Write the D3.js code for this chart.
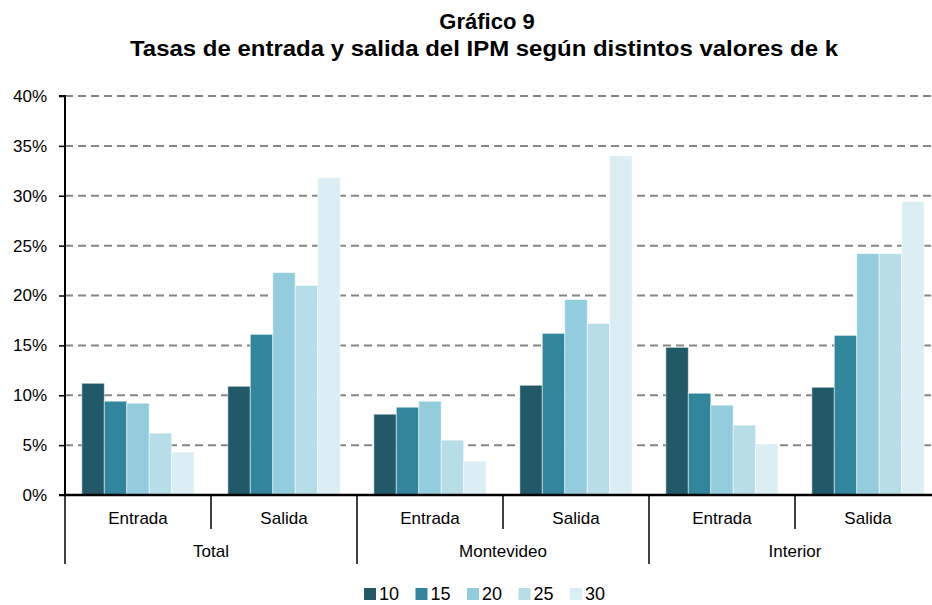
<!DOCTYPE html>
<html>
<head>
<meta charset="utf-8">
<script src="https://cdn.jsdelivr.net/npm/d3@7"></script>
<style>
  body { margin: 0; background: #fff; }
  svg { display: block; font-family: "Liberation Sans", Arial, sans-serif; }
</style>
</head>
<body>
<div class="chart"></div>
<script>
// data
const regions = ["Total", "Montevideo", "Interior"];
const flows = ["Entrada", "Salida"];
const kValues = ["10", "15", "20", "25", "30"];
const k10 = [11.2, 10.9, 8.1, 11.0, 14.8, 10.8];
const k15 = [9.4, 16.1, 8.8, 16.2, 10.2, 16.0];
const k20 = [9.2, 22.3, 9.4, 19.6, 9.0, 24.2];
const k25 = [6.2, 21.0, 5.5, 17.2, 7.0, 24.2];
const k30 = [4.3, 31.8, 3.4, 34.0, 5.1, 29.4];
const yTicks = [0, 5, 10, 15, 20, 25, 30, 35, 40];
const colors = ["#215968", "#31859c", "#93cddd", "#b7dee8", "#dbeef4"];

const series = [k10, k15, k20, k25, k30];
const cats = [];
regions.forEach(r => flows.forEach(f => cats.push(r + "|" + f)));
const rows = cats.map((c, i) => ({cat: c, vals: series.map((s, j) => ({k: kValues[j], v: s[i]}))}));

const W = 932, H = 605;
const plot = {left: 65, right: 941, top: 96, bottom: 495};

const svg = d3.select(".chart").append("svg")
    .attr("width", W)
    .attr("height", H);

const x = d3.scaleBand()
    .domain(cats)
    .range([plot.left, plot.right]);

const xk = d3.scaleBand()
    .domain(kValues)
    .range([0, x.bandwidth()])
    .paddingOuter(0.75);

const y = d3.scaleLinear()
    .domain([0, 40])
    .range([plot.bottom, plot.top]);

// gridlines
svg.append("g")
    .selectAll("line")
    .data(yTicks.filter(d => d > 0))
    .join("line")
    .attr("x1", plot.left)
    .attr("x2", W)
    .attr("y1", d => y(d))
    .attr("y2", d => y(d))
    .attr("stroke", "#868686")
    .attr("stroke-width", 2)
    .attr("stroke-dasharray", "8,5");

// bars
svg.append("g")
    .selectAll("g")
    .data(rows)
    .join("g")
    .attr("transform", d => `translate(${x(d.cat)},0)`)
    .selectAll("rect")
    .data(d => d.vals)
    .join("rect")
    .attr("x", d => xk(d.k))
    .attr("width", xk.bandwidth())
    .attr("y", d => y(d.v))
    .attr("height", d => y(0) - y(d.v))
    .attr("fill", (d, i) => colors[i])
    .attr("stroke", "rgba(255,255,255,0.5)")
    .attr("stroke-width", 1);

// y axis
const yAxis = d3.axisLeft(y)
    .tickValues(yTicks)
    .tickSize(6)
    .tickFormat(d => d + "%");

svg.append("g")
    .attr("class", "axis y-axis")
    .attr("transform", `translate(${plot.left},0)`)
    .call(yAxis)
    .call(g => g.select(".domain").attr("stroke", "#000").attr("stroke-width", 2).attr("d", `M-6,${plot.top}H0V${plot.bottom}H-6`))
    .call(g => g.selectAll(".tick line").attr("stroke", "#000").attr("stroke-width", 1.5))
    .call(g => g.selectAll(".tick text")
        .attr("x", -18)
        .attr("font-size", 17)
        .attr("font-family", "Liberation Sans, Arial, sans-serif")
        .attr("fill", "#000"));

// x axis line
svg.append("line")
    .attr("x1", plot.left)
    .attr("x2", W)
    .attr("y1", plot.bottom)
    .attr("y2", plot.bottom)
    .attr("stroke", "#000")
    .attr("stroke-width", 2.5);

// sub-category dividers & labels
const xg = svg.append("g").attr("class", "x-labels");
cats.forEach((c, i) => {
    const x0 = x(c);
    const isGroupStart = i % 2 === 0;
    xg.append("line")
        .attr("x1", x0).attr("x2", x0)
        .attr("y1", plot.bottom).attr("y2", isGroupStart ? 564 : 529)
        .attr("stroke", "#000")
        .attr("stroke-width", 1.5);
    xg.append("text")
        .attr("x", x0 + x.bandwidth() / 2)
        .attr("y", 524)
        .attr("text-anchor", "middle")
        .attr("font-size", 17)
        .text(c.split("|")[1]);
});
regions.forEach(r => {
    const x0 = x(r + "|Entrada");
    xg.append("text")
        .attr("x", x0 + x.bandwidth())
        .attr("y", 557)
        .attr("text-anchor", "middle")
        .attr("font-size", 17)
        .text(r);
});

// title
svg.append("text")
    .attr("x", 487)
    .attr("y", 29)
    .attr("text-anchor", "middle")
    .attr("font-size", 22)
    .attr("font-weight", 700)
    .text("Gráfico 9");
svg.append("text")
    .attr("x", 484)
    .attr("y", 56)
    .attr("text-anchor", "middle")
    .attr("font-size", 22)
    .attr("font-weight", 700)
    .attr("textLength", 708)
    .attr("lengthAdjust", "spacingAndGlyphs")
    .text("Tasas de entrada y salida del IPM según distintos valores de k");

// legend
const legend = svg.append("g")
    .selectAll("g")
    .data(kValues)
    .join("g")
    .attr("transform", (d, i) => `translate(${364 + i * 51.5},0)`);
legend.append("rect")
    .attr("x", 0)
    .attr("y", 588)
    .attr("width", 12)
    .attr("height", 12)
    .attr("fill", (d, i) => colors[i]);
legend.append("text")
    .attr("x", 15)
    .attr("y", 600)
    .attr("font-size", 18)
    .text(d => d);
</script>
</body>
</html>
